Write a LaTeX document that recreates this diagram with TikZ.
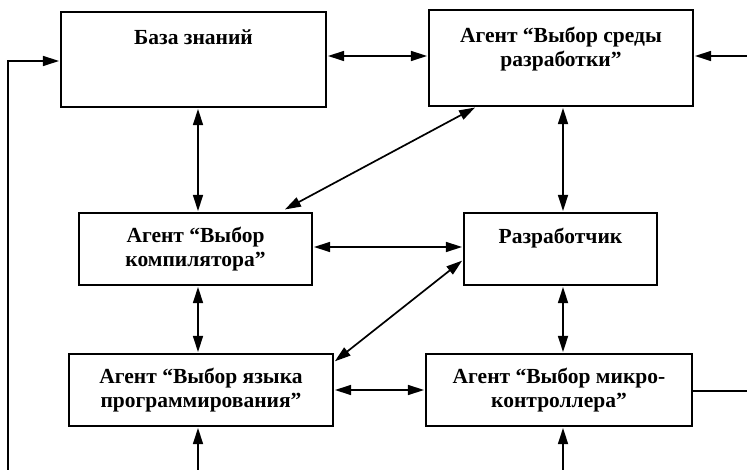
\documentclass[tikz,border=0pt]{standalone}
\usepackage{fontspec}
\setmainfont{Liberation Serif}
\usetikzlibrary{arrows.meta,positioning}

\begin{document}
\begin{tikzpicture}[x=1pt,y=-1pt,>={Triangle[length=16pt,width=10pt]},
  box/.style={draw,line width=2.1pt,inner sep=0pt},
  txt/.style={font=\fontsize{21.5}{23.5}\selectfont\bfseries,align=center,inner sep=0pt},
  link/.style={<->,line width=1.7pt,shorten <=1pt,shorten >=1pt},
  feed/.style={->,line width=1.7pt,shorten >=1pt}]
  \useasboundingbox (0,0) rectangle (747,470);
  % boxes
  \node[box,minimum width=265pt,minimum height=95pt] (kb) at (193.5,59.5) {};
  \node[txt,below=19pt of kb.north] {База знаний};
  \node[box,minimum width=264pt,minimum height=96pt] (env) at (561,58) {};
  \node[txt,below=18pt of env.north] {Агент “Выбор среды\\разработки”};
  \node[box,minimum width=233pt,minimum height=72pt] (comp) at (195.5,249) {};
  \node[txt] at (comp) {Агент “Выбор\\компилятора”};
  \node[box,minimum width=193pt,minimum height=72pt] (dev) at (560.5,249) {};
  \node[txt,below=16pt of dev.north] {Разработчик};
  \node[box,minimum width=264pt,minimum height=72pt] (lang) at (201,390) {};
  \node[txt] at (lang) {Агент “Выбор языка\\программирования”};
  \node[box,minimum width=266pt,minimum height=72pt] (mcu) at (559,390) {};
  \node[txt] at (mcu) {Агент “Выбор микро-\\контроллера”};
  % free ends on the border
  \coordinate (inL) at (8,470);
  \coordinate (inR) at (747,56);
  \coordinate (outR) at (747,391);
  \coordinate (inC) at (198,470);
  \coordinate (inM) at (563,470);
  % links between boxes
  \draw[link] ([yshift=3.5pt]kb.east) -- ([yshift=2pt]env.west);
  \draw[link] (kb.south -| inC) -- (comp.north -| inC);
  \draw[link] (env.south -| inM) -- (dev.north -| inM);
  \draw[link] ([xshift=48pt]env.south west) -- ([xshift=-29pt,yshift=2pt]comp.north east);
  \draw[link] ([yshift=2pt]comp.east) -- ([yshift=2pt]dev.west);
  \draw[link] (comp.south -| inC) -- (lang.north -| inC);
  \draw[link] (dev.south -| inM) -- (mcu.north -| inM);
  \draw[link] ([yshift=-11pt]dev.west) -- ([yshift=-9pt]lang.north east);
  \draw[link] (lang.east) -- (mcu.west);
  % inputs and output
  \draw[feed] (inL) -- (inL |- 0,61) -- (kb.west |- 0,61);
  \draw[feed] (inR) -- (inR -| env.east);
  \draw[line width=1.7pt] (outR -| mcu.east) -- (outR);
  \draw[feed] (inC) -- (lang.south -| inC);
  \draw[feed] (inM) -- (mcu.south -| inM);
\end{tikzpicture}
\end{document}
